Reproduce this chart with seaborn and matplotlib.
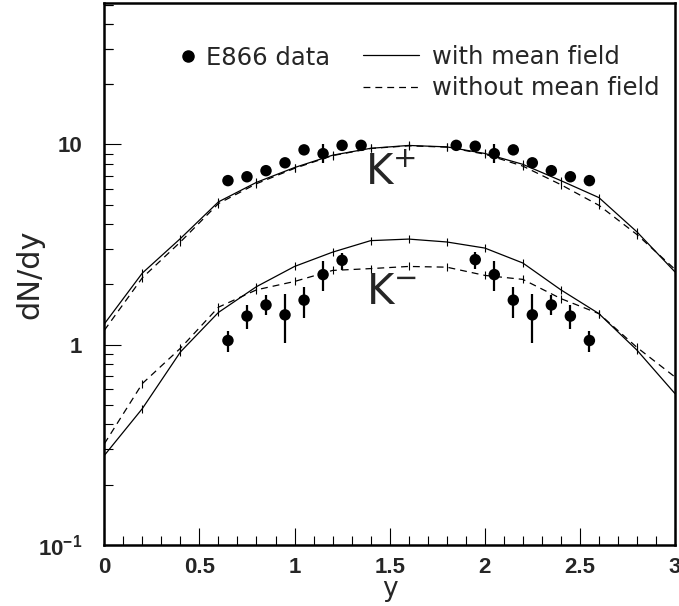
import numpy as np
import pandas as pd
import matplotlib
matplotlib.use("Agg")
import matplotlib.pyplot as plt
import seaborn as sns
from matplotlib.ticker import MultipleLocator, FixedLocator, FixedFormatter, NullFormatter
from matplotlib.lines import Line2D

# ---------------- data ----------------
y_nodes = [0.0, 0.2, 0.4, 0.6, 0.8, 1.0, 1.2, 1.4, 1.6, 1.8, 2.0, 2.2, 2.4, 2.6, 2.8, 3.0]
kp_mf = [1.27, 2.28, 3.39, 5.17, 6.47, 7.67, 8.84, 9.57, 9.89, 9.73, 9.02, 7.96, 6.60, 5.43, 3.66, 2.31]
kp_nomf = [1.18, 2.16, 3.26, 5.07, 6.37, 7.60, 8.80, 9.55, 9.85, 9.70, 8.95, 7.80, 6.30, 4.97, 3.55, 2.38]
km_mf = [0.28, 0.48, 0.92, 1.45, 1.95, 2.46, 2.90, 3.31, 3.37, 3.26, 3.04, 2.56, 1.88, 1.43, 0.94, 0.57]
km_nomf = [0.32, 0.64, 0.96, 1.54, 1.88, 2.07, 2.35, 2.40, 2.46, 2.44, 2.22, 2.12, 1.70, 1.43, 0.97, 0.69]

kp_y = [0.65, 0.75, 0.85, 0.95, 1.05, 1.15, 1.25, 1.35, 1.85, 1.95, 2.05, 2.15, 2.25, 2.35, 2.45, 2.55]
kp_val = [6.6, 6.9, 7.4, 8.1, 9.4, 9.0, 9.9, 9.9, 9.9, 9.8, 9.0, 9.4, 8.1, 7.4, 6.9, 6.6]
kp_lo = [6.6, 6.9, 7.4, 8.1, 9.4, 8.05, 9.9, 9.9, 9.9, 9.8, 8.05, 9.4, 8.1, 7.4, 6.9, 6.6]
kp_hi = [6.6, 6.9, 7.4, 8.1, 9.4, 10.05, 9.9, 9.9, 9.9, 9.8, 10.05, 9.4, 8.1, 7.4, 6.9, 6.6]

km_y = [0.65, 0.75, 0.85, 0.95, 1.05, 1.15, 1.25, 1.95, 2.05, 2.15, 2.25, 2.35, 2.45, 2.55]
km_val = [1.05, 1.39, 1.58, 1.41, 1.67, 2.24, 2.64, 2.66, 2.24, 1.67, 1.41, 1.58, 1.39, 1.05]
km_lo = [0.92, 1.20, 1.40, 1.02, 1.36, 1.85, 2.37, 2.39, 1.85, 1.36, 1.02, 1.40, 1.20, 0.92]
km_hi = [1.17, 1.58, 1.78, 1.80, 1.94, 2.62, 2.88, 2.90, 2.62, 1.94, 1.80, 1.78, 1.58, 1.17]

y_ticks = [0.1, 1, 10]
y_ticklabels = [r"$\mathbf{10}^{\mathbf{-1}}$", "1", "10"]

# ---------------- style ----------------
sns.set_style("ticks")
plt.rcParams['font.family'] = ['DejaVu Sans']
plt.rcParams['mathtext.fontset'] = 'custom'
plt.rcParams['mathtext.bf'] = 'Liberation Sans:bold'
plt.rcParams['mathtext.rm'] = 'DejaVu Sans'

fig = plt.figure(figsize=(6.79, 6.06), dpi=100)
ax = fig.add_axes([104.3 / 679, (606 - 545) / 606, (675 - 104.3) / 679, (545 - 3.3) / 606])
ax.set_yscale('log')

node_kw = dict(color='black', lw=0.9, marker='|', markersize=6,
               markeredgewidth=0.8, markeredgecolor='black')
sns.lineplot(x=y_nodes, y=kp_mf, ax=ax, linestyle='-', **node_kw)
sns.lineplot(x=y_nodes, y=kp_nomf, ax=ax, linestyle=(0, (5.5, 4.0)), **node_kw)
sns.lineplot(x=y_nodes, y=km_mf, ax=ax, linestyle='-', **node_kw)
sns.lineplot(x=y_nodes, y=km_nomf, ax=ax, linestyle=(0, (5.5, 4.0)), **node_kw)

for xs, vals, lo, hi in [(kp_y, kp_val, kp_lo, kp_hi), (km_y, km_val, km_lo, km_hi)]:
    v = np.array(vals)
    err = np.vstack([v - np.array(lo), np.array(hi) - v])
    ax.errorbar(xs, v, yerr=err, fmt='none', ecolor='black', elinewidth=1.6, capsize=0, zorder=4)
    sns.scatterplot(x=xs, y=vals, ax=ax, color='black', s=68, edgecolor='none', zorder=5)

ax.set_xlim(0, 3)
ax.set_ylim(0.1, 50.7)

# ticks
ax.xaxis.set_major_locator(MultipleLocator(0.5))
ax.xaxis.set_minor_locator(MultipleLocator(0.1))
ax.yaxis.set_major_locator(FixedLocator(y_ticks))
ax.yaxis.set_major_formatter(FixedFormatter(y_ticklabels))
minor_y = [m * 10.0 ** e for e in (-1, 0, 1) for m in range(2, 10)] + [20, 30, 40, 50]
ax.yaxis.set_minor_locator(FixedLocator(minor_y))
ax.yaxis.set_minor_formatter(NullFormatter())
ax.xaxis.set_major_formatter(matplotlib.ticker.FuncFormatter(lambda v, p: ('%g' % v)))

ax.tick_params(which='both', direction='in', top=False, right=False, width=0.8, color='black')
ax.tick_params(which='major', length=12.5)
ax.tick_params(which='minor', length=6.3)
ax.tick_params(axis='x', which='major', pad=8.5)
ax.tick_params(axis='y', which='major', pad=16)
for lab in ax.get_xticklabels() + ax.get_yticklabels():
    lab.set_fontfamily('Liberation Sans')
    lab.set_fontweight('bold')
    lab.set_fontsize(16)

for s in ax.spines.values():
    s.set_linewidth(1.8)
    s.set_color('black')

ax.set_xlabel('y', fontsize=19, fontfamily='DejaVu Sans')
ax.xaxis.set_label_coords(0.5, -0.058)
ax.set_ylabel('dN/dy', fontsize=22, fontfamily='DejaVu Sans')
ax.yaxis.set_label_coords(-0.105, 0.5)

# particle labels
ax.text(1.37, 6.34, r"K$^{+}$", fontsize=30, ha='left', va='baseline', fontfamily='DejaVu Sans')
ax.text(1.375, 1.60, r"K$^{-}$", fontsize=30, ha='left', va='baseline', fontfamily='DejaVu Sans')

# legends
h_data = Line2D([], [], color='black', marker='o', linestyle='none', markersize=8)
leg1 = ax.legend([h_data], ['E866 data'], loc='center left', bbox_to_anchor=((177 - 104.3) / 570.7, (545 - 58) / 541.7),
                 frameon=False, fontsize=17.5, handlelength=0.9, handletextpad=0.3, borderpad=0, borderaxespad=0)
ax.add_artist(leg1)
h_mf = Line2D([], [], color='black', lw=0.9)
h_nomf = Line2D([], [], color='black', lw=0.9, linestyle=(0, (5.5, 4.0)))
ax.legend([h_mf, h_nomf], ['with mean field', 'without mean field'], loc='center left',
          bbox_to_anchor=((363 - 104.3) / 570.7, (545 - 72.5) / 541.7), frameon=False, fontsize=17.5,
          handlelength=2.3, handletextpad=0.55, labelspacing=0.32, borderpad=0, borderaxespad=0)

fig.savefig('out.png', dpi=100)
